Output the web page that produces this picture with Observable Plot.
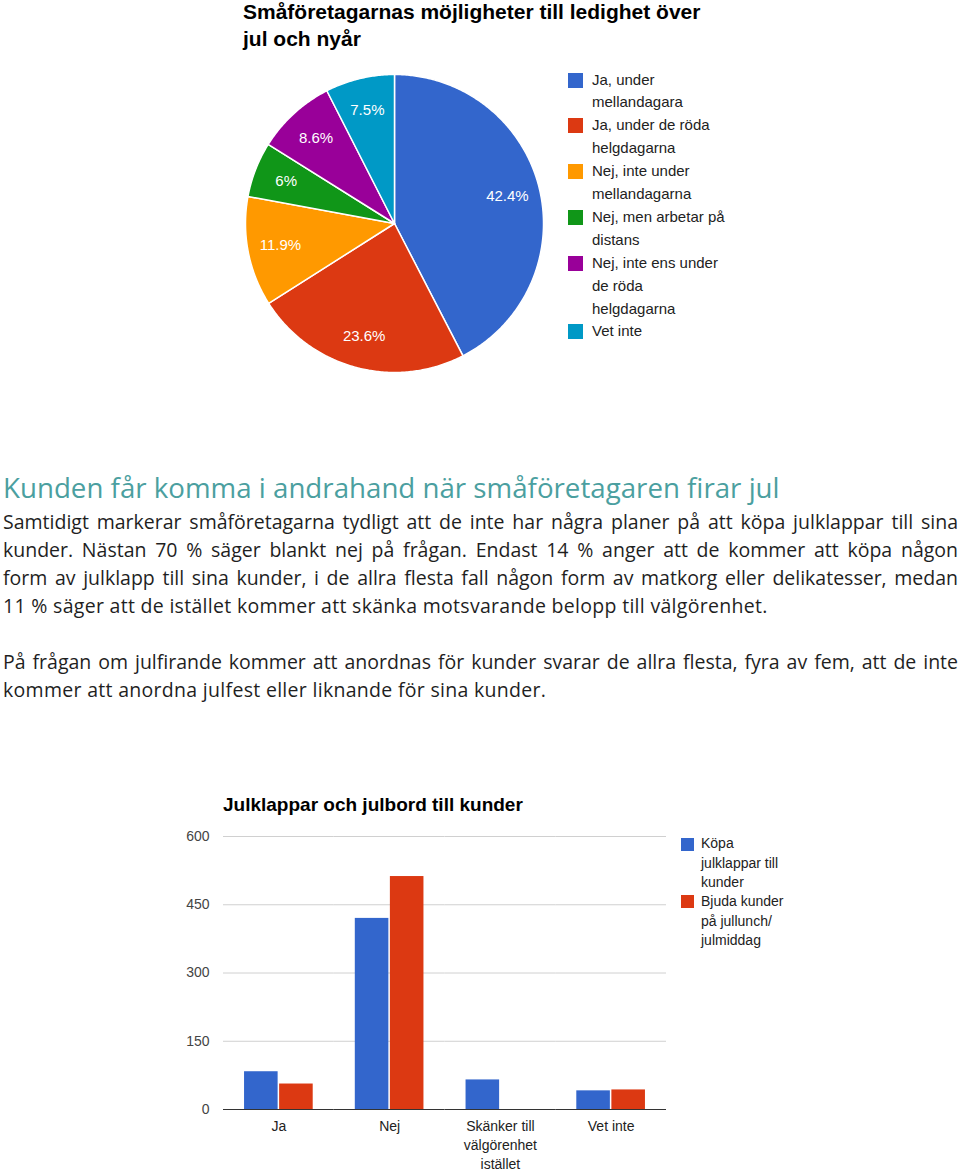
<!DOCTYPE html>
<html><head><meta charset="utf-8">
<script src="https://cdn.jsdelivr.net/npm/d3@7"></script>
<script src="https://cdn.jsdelivr.net/npm/@observablehq/plot@0.6"></script>
<style>
body{margin:0;background:#fff;}
#page{position:relative;width:960px;height:1175px;overflow:hidden;font-family:Arial,"Liberation Sans",sans-serif;color:#222;}
.abs{position:absolute;}
.ctitle{font-weight:bold;line-height:27px;color:#000;white-space:pre;}
.sw{position:absolute;}
#heading{left:3px;top:470px;font-family:"Open Sans",sans-serif;font-size:27.7px;line-height:34px;color:#4b9fa0;white-space:nowrap;}
#body{left:3px;top:508px;width:955px;font-family:"Open Sans",sans-serif;font-size:19.5px;line-height:28px;color:#1f1f1f;}
#body .j{text-align:justify;text-align-last:justify;white-space:nowrap;}
#body .l{text-align:left;white-space:nowrap;letter-spacing:0.3px;}
#body .gap{height:28px;}
</style></head>
<body><div id="page">
<div class="abs ctitle" id="pieTitle" style="left:243px;top:-2px;font-size:21px;"></div>
<div class="abs" id="pieChart" style="left:230px;top:60px;"></div>
<div class="abs" id="pieLegend" style="left:568px;top:0px;"></div>
<div class="abs" id="heading"></div>
<div class="abs" id="body"></div>
<div class="abs ctitle" id="barTitle" style="left:223px;top:791px;font-size:19px;"></div>
<div class="abs" id="barChart" style="left:170px;top:820px;"></div>
<div class="abs" id="barLegend" style="left:681px;top:0px;"></div>
</div>
<script>
// ---------- data ----------
const pieTitle = "Småföretagarnas möjligheter till ledighet över\njul och nyår";
const pieLabels = ["Ja, under mellandagara", "Ja, under de röda helgdagarna", "Nej, inte under mellandagarna", "Nej, men arbetar på distans", "Nej, inte ens under de röda helgdagarna", "Vet inte"];
const pieLegendText = ["Ja, under\nmellandagara", "Ja, under de röda\nhelgdagarna", "Nej, inte under\nmellandagarna", "Nej, men arbetar på\ndistans", "Nej, inte ens under\nde röda\nhelgdagarna", "Vet inte"];
const pieValues = [42.4, 23.6, 11.9, 6, 8.6, 7.5];
const pieColors = ["#3366cc", "#dc3912", "#ff9900", "#109618", "#990099", "#0099c6"];

const headingText = "Kunden får komma i andrahand när småföretagaren firar jul";
const bodyLines = [
  "Samtidigt markerar småföretagarna tydligt att de inte har några planer på att köpa julklappar till sina",
  "kunder. Nästan 70 % säger blankt nej på frågan. Endast 14 % anger att de kommer att köpa någon",
  "form av julklapp till sina kunder, i de allra flesta fall någon form av matkorg eller delikatesser, medan",
  "11 % säger att de istället kommer att skänka motsvarande belopp till välgörenhet.",
  "",
  "På frågan om julfirande kommer att anordnas för kunder svarar de allra flesta, fyra av fem, att de inte",
  "kommer att anordna julfest eller liknande för sina kunder."
];
const bodyJustified = [true, true, true, false, false, true, false];

const barTitle = "Julklappar och julbord till kunder";
const barCategories = ["Ja", "Nej", "Skänker till\nvälgörenhet\nistället", "Vet inte"];
const barSeries = ["Köpa julklappar till kunder", "Bjuda kunder på jullunch/julmiddag"];
const barLegendText = ["Köpa\njulklappar till\nkunder", "Bjuda kunder\npå jullunch/\njulmiddag"];
const kopaValues = [83, 420, 65, 41];
const bjudaValues = [56, 512, 0, 43];
const barColors = ["#3366cc", "#dc3912"];
const yTicks = [0, 150, 300, 450, 600];

// ---------- text ----------
document.getElementById("pieTitle").textContent = pieTitle;
document.getElementById("barTitle").textContent = barTitle;
document.getElementById("heading").textContent = headingText;
const body = document.getElementById("body");
bodyLines.forEach((t, i) => {
  const d = document.createElement("div");
  if (t === "") { d.className = "gap"; }
  else { d.className = bodyJustified[i] ? "j" : "l"; d.textContent = t; }
  body.appendChild(d);
});

// ---------- pie ----------
const arcs = d3.pie().sort(null)(pieValues);
const slicePts = [];
const labelPts = [];
arcs.forEach((a, i) => {
  const name = pieLabels[i];
  slicePts.push({name, x: 0, y: 0});
  const n = Math.max(2, Math.ceil((a.endAngle - a.startAngle) / 0.01));
  for (let k = 0; k <= n; k++) {
    const t = a.startAngle + (a.endAngle - a.startAngle) * k / n;
    slicePts.push({name, x: Math.sin(t), y: Math.cos(t)});
  }
  const m = (a.startAngle + a.endAngle) / 2;
  labelPts.push({name, x: 0.78 * Math.sin(m), y: 0.78 * Math.cos(m), text: pieValues[i] + "%"});
});
const pie = Plot.plot({
  width: 330, height: 330, margin: 0,
  style: {background: "transparent", fontFamily: "Arial, 'Liberation Sans', sans-serif"},
  x: {domain: [-1, 1], range: [15, 313], axis: null},
  y: {domain: [-1, 1], range: [312, 14], axis: null},
  color: {domain: pieLabels, range: pieColors},
  marks: [
    Plot.line(slicePts, {x: "x", y: "y", z: "name", fill: "name", stroke: "white", strokeWidth: 1.5, curve: "linear-closed", strokeLinejoin: "round"}),
    Plot.text(labelPts, {x: "x", y: "y", text: "text", fill: "white", fontSize: 15})
  ]
});
document.getElementById("pieChart").appendChild(pie);

// legends
function legend(el, texts, colors, opts) {
  let line = 0;
  texts.forEach((t, i) => {
    const nLines = t.split("\n").length;
    const top = opts.firstCenter + line * opts.lh;
    const sw = document.createElement("div");
    sw.className = "sw";
    sw.style.cssText = `left:0px;top:${top - opts.sq / 2}px;width:${opts.sq}px;height:${opts.sq}px;background:${colors[i]};`;
    el.appendChild(sw);
    const tx = document.createElement("div");
    tx.className = "abs";
    tx.style.cssText = `left:${opts.tx}px;top:${top - opts.lh / 2}px;font-size:${opts.fs}px;line-height:${opts.lh}px;white-space:pre;color:#222;`;
    tx.textContent = t;
    el.appendChild(tx);
    line += nLines;
  });
}
legend(document.getElementById("pieLegend"), pieLegendText, pieColors, {firstCenter: 80, lh: 22.9, sq: 15, tx: 24, fs: 15});
legend(document.getElementById("barLegend"), barLegendText, barColors, {firstCenter: 844, lh: 19.3, sq: 13, tx: 20, fs: 14});

// ---------- bars ----------
const barData = [];
barCategories.forEach((c, i) => {
  barData.push({cat: c, series: barSeries[0], value: kopaValues[i]});
  barData.push({cat: c, series: barSeries[1], value: bjudaValues[i]});
});
const bar = Plot.plot({
  width: 500, height: 360,
  marginLeft: 53, marginRight: 4, marginTop: 16, marginBottom: 71,
  style: {background: "transparent", fontFamily: "Arial, 'Liberation Sans', sans-serif", fontSize: "14px", color: "#444"},
  fx: {domain: barCategories, padding: 0, axis: null, round: false},
  x: {domain: barSeries, paddingInner: 0.043, paddingOuter: 0.6, axis: null, round: false},
  y: {domain: [0, 600], ticks: yTicks, tickSize: 0, tickPadding: 14, label: null, axis: "left"},
  color: {domain: barSeries, range: barColors},
  marks: [
    Plot.ruleY(yTicks.filter(v => v > 0), {stroke: "#d0d0d0", strokeWidth: 1}),
    Plot.barY(barData, {fx: "cat", x: "series", y: "value", fill: "series"}),
    Plot.ruleY([0], {stroke: "#333", strokeWidth: 1}),
    Plot.text(barCategories, {fx: d => d, text: d => d, frameAnchor: "bottom", lineAnchor: "top", dy: 8, lineHeight: 1.36, fontSize: 14, fill: "#222"})
  ]
});
document.getElementById("barChart").appendChild(bar);
</script>
</body></html>
